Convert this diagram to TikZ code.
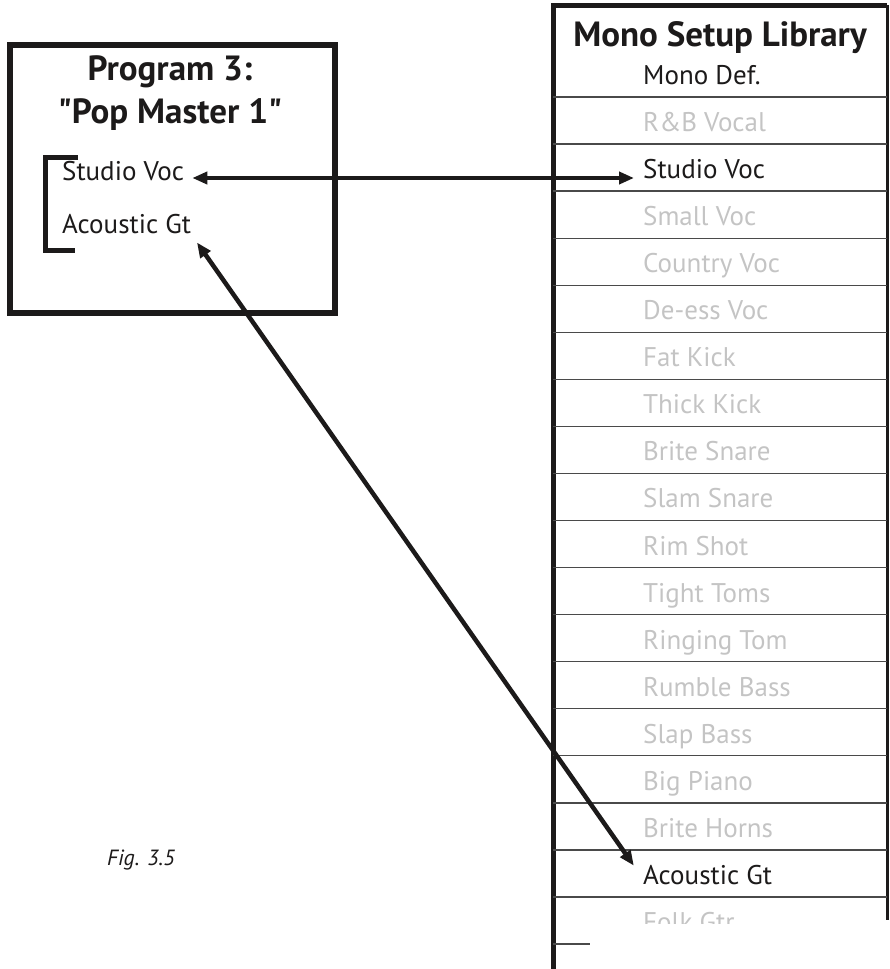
\documentclass[tikz,border=0pt]{standalone}
\usepackage{fontspec}
\setmainfont{PT Sans}
\usepackage{xcolor}
\usetikzlibrary{arrows.meta,positioning,calc}

\definecolor{ink}{HTML}{1C1A1A}
\definecolor{faded}{HTML}{C4C4C4}
\definecolor{rule}{HTML}{4A4A4A}

\begin{document}
\begin{tikzpicture}[x=1pt,y=-1pt,
    heading/.style={font=\fontsize{35}{40}\selectfont\bfseries,text=ink,inner sep=0pt},
    entry/.style={font=\fontsize{27}{32}\selectfont,anchor=west,inner sep=4pt,
        text height=0.72em,text depth=0.24em,text=faded},
    chosen/.style={entry,text=ink},
    frame/.style={line width=5.5pt,ink},
    divider/.style={line width=1.3pt,rule},
    link/.style={{Triangle[length=15pt,width=12pt]}-{Triangle[length=15pt,width=12pt]},line width=4.5pt,ink}
]
\useasboundingbox (0,0) rectangle (889,969);

% program box
\draw[frame] (10,45) rectangle (335,313);
\node[heading] (ptitle) at (170,72) {Program 3:};
\node[heading,below=10pt of ptitle] (pname) {\textquotedbl Pop Master 1\textquotedbl};
\draw[frame,line width=5pt] (78,157) -| (45,250) -- (75,250);
\node[chosen] (pvoc) at (58,178) {Studio Voc};
\node[chosen] (pgt) at (58,231) {Acoustic Gt};

% library column
\draw[frame,line width=5pt] (553,969) -- (553,5) -- (887,5);
\draw[line width=3pt,ink] (887,5) -- (887,920);
\node[heading] (ltitle) at (720,38) {Mono Setup Library};
\foreach \k in {0,...,17}
    \draw[divider] (553,97+47.06*\k) -- (887,97+47.06*\k);
\draw[divider] (553,944) -- (590,944);
\foreach \i/\name in {1/R\&B Vocal,3/Small Voc,4/Country Voc,5/De-ess Voc,
    6/Fat Kick,7/Thick Kick,8/Brite Snare,9/Slam Snare,10/Rim Shot,
    11/Tight Toms,12/Ringing Tom,13/Rumble Bass,14/Slap Bass,15/Big Piano,
    16/Brite Horns}
    \node[entry] (lib\i) at (639,82+47.06*\i) {\name};
\foreach \i/\name in {0/Mono Def.,2/Studio Voc,17/Acoustic Gt}
    \node[chosen] (lib\i) at (639,82+47.06*\i) {\name};
\begin{scope}
    \clip (553,897) rectangle (887,923);
    \node[entry] (lib18) at (639,82+47.06*18) {Folk Gtr};
\end{scope}

% links
\draw[link,shorten <=4pt,shorten >=5pt] (pvoc.east) -- (pvoc.east -| lib2.west);
\draw[link,shorten <=3pt,shorten >=9pt] (pgt.south east) -- (lib17.north west);

\node[font=\fontsize{22}{26}\selectfont\itshape,text=ink] (fig) at (141,860) {Fig. 3.5};
\end{tikzpicture}
\end{document}
